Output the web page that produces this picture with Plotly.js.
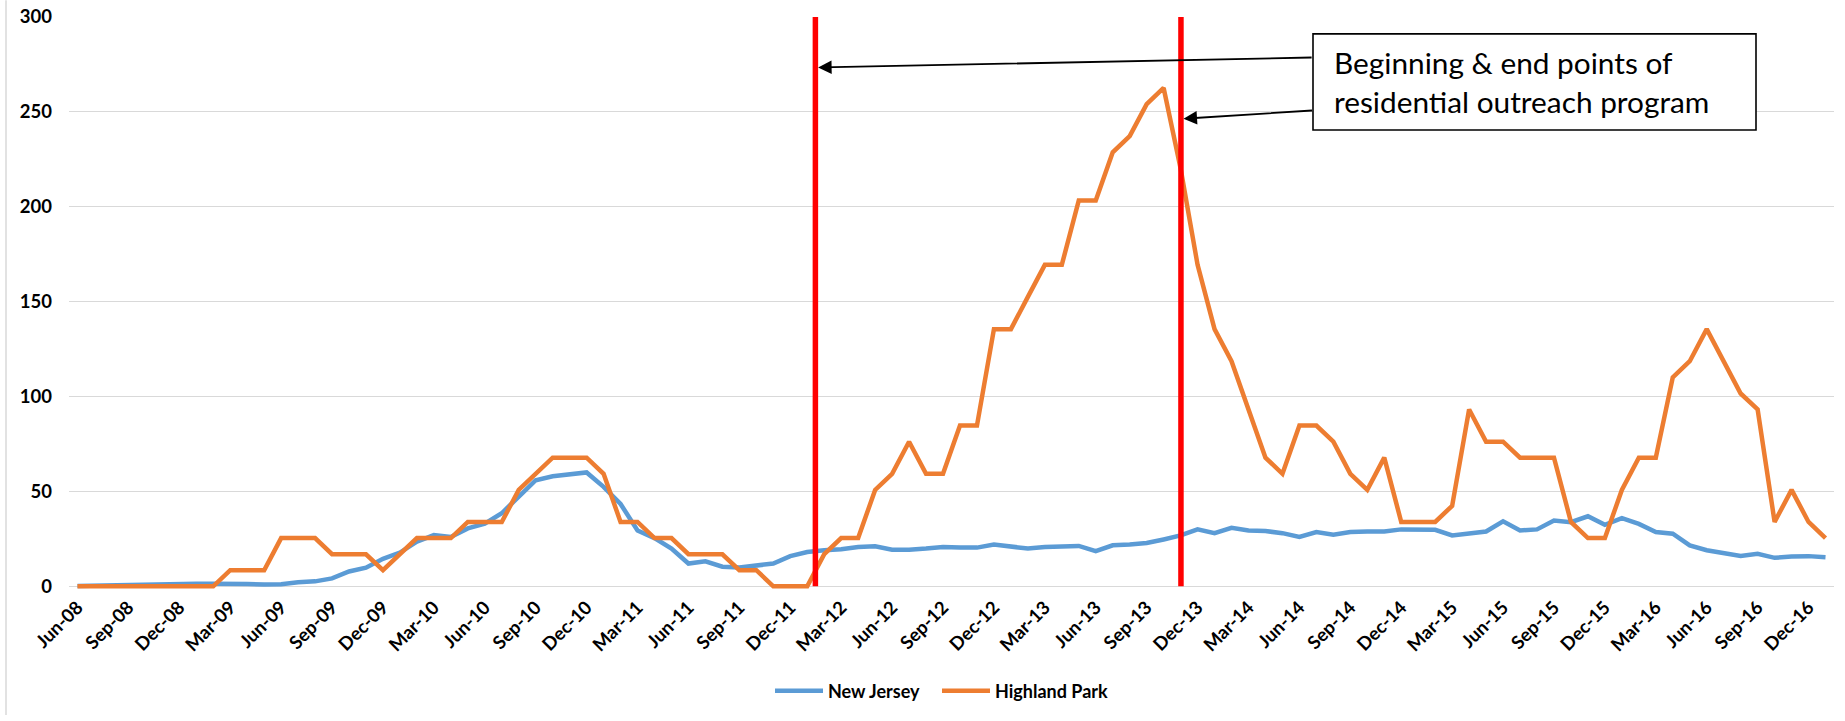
<!DOCTYPE html>
<html>
<head>
<meta charset="utf-8">
<script src="https://cdn.plot.ly/plotly-3.0.1.min.js"></script>
<style>
  html, body { margin: 0; padding: 0; background: #ffffff; }
  #chart { width: 1845px; height: 721px; }
</style>
</head>
<body>
<div id="chart"></div>
<script>
// Monthly reporting periods
const months = [
  'Jun-08','Jul-08','Aug-08','Sep-08','Oct-08','Nov-08','Dec-08',
  'Jan-09','Feb-09','Mar-09','Apr-09','May-09','Jun-09','Jul-09','Aug-09','Sep-09','Oct-09','Nov-09','Dec-09',
  'Jan-10','Feb-10','Mar-10','Apr-10','May-10','Jun-10','Jul-10','Aug-10','Sep-10','Oct-10','Nov-10','Dec-10',
  'Jan-11','Feb-11','Mar-11','Apr-11','May-11','Jun-11','Jul-11','Aug-11','Sep-11','Oct-11','Nov-11','Dec-11',
  'Jan-12','Feb-12','Mar-12','Apr-12','May-12','Jun-12','Jul-12','Aug-12','Sep-12','Oct-12','Nov-12','Dec-12',
  'Jan-13','Feb-13','Mar-13','Apr-13','May-13','Jun-13','Jul-13','Aug-13','Sep-13','Oct-13','Nov-13','Dec-13',
  'Jan-14','Feb-14','Mar-14','Apr-14','May-14','Jun-14','Jul-14','Aug-14','Sep-14','Oct-14','Nov-14','Dec-14',
  'Jan-15','Feb-15','Mar-15','Apr-15','May-15','Jun-15','Jul-15','Aug-15','Sep-15','Oct-15','Nov-15','Dec-15',
  'Jan-16','Feb-16','Mar-16','Apr-16','May-16','Jun-16','Jul-16','Aug-16','Sep-16','Oct-16','Nov-16','Dec-16',
  'Jan-17'
];

// Quarterly labels shown on the x axis
const tickLabels = [
  'Jun-08','Sep-08','Dec-08','Mar-09','Jun-09','Sep-09','Dec-09','Mar-10','Jun-10','Sep-10','Dec-10',
  'Mar-11','Jun-11','Sep-11','Dec-11','Mar-12','Jun-12','Sep-12','Dec-12','Mar-13','Jun-13','Sep-13',
  'Dec-13','Mar-14','Jun-14','Sep-14','Dec-14','Mar-15','Jun-15','Sep-15','Dec-15','Mar-16','Jun-16',
  'Sep-16','Dec-16'
];

const newJersey = [
  0.2, 0.4, 0.5, 0.6, 0.8, 1.2, 1.6,
  1.4, 1.3, 1.4, 1.2, 1.0, 1.1, 2.1, 2.6, 4.2, 7.8, 9.8, 14.5,
  17.8, 23.5, 27.0, 26.0, 30.5, 33.0, 38.5, 46.9, 55.9, 58.0, 59.0, 60.0,
  52.4, 43.4, 29.4, 25.4, 19.9, 12.0, 13.2, 10.3, 9.9, 10.8, 12.0, 15.9,
  18.1, 19.0, 19.5, 20.7, 21.1, 19.3, 19.3, 19.9, 20.7, 20.4, 20.4, 22.0,
  20.8, 19.9, 20.7, 21.1, 21.3, 18.5, 21.6, 22.0, 22.8, 24.7, 26.8, 30.0,
  28.0, 30.8, 29.4, 29.1, 28.0, 26.0, 28.6, 27.2, 28.6, 28.9, 28.9, 30.0,
  30.0, 29.8, 26.8, 28.0, 28.9, 34.3, 29.4, 30.0, 34.7, 33.8, 36.9, 32.4,
  35.9, 32.9, 28.6, 27.7, 21.6, 19.0, 17.8, 16.0, 17.1, 15.0, 15.7, 15.9,
  15.3
];

const highlandPark = [
  0, 0, 0, 0, 0, 0, 0,
  0, 0, 8.5, 8.5, 8.5, 25.4, 25.4, 25.4, 16.9, 16.9, 16.9, 8.5,
  16.9, 25.4, 25.4, 25.4, 33.9, 33.9, 33.9, 50.8, 59.3, 67.8, 67.8, 67.8,
  59.3, 33.9, 33.9, 25.4, 25.4, 16.9, 16.9, 16.9, 8.5, 8.5, 0, 0,
  0, 16.9, 25.4, 25.4, 50.8, 59.3, 76.2, 59.3, 59.3, 84.7, 84.7, 135.5,
  135.5, 152.5, 169.4, 169.4, 203.3, 203.3, 228.7, 237.2, 254.1, 262.6, 220.2, 169.4,
  135.5, 118.6, 93.2, 67.8, 59.3, 84.7, 84.7, 76.2, 59.3, 50.8, 67.8, 33.9,
  33.9, 33.9, 42.4, 93.2, 76.2, 76.2, 67.8, 67.8, 67.8, 33.9, 25.4, 25.4,
  50.8, 67.8, 67.8, 110.1, 118.6, 135.5, 118.6, 101.6, 93.2, 33.9, 50.8, 33.9,
  25.4
];

// Start and end of the residential outreach program, in month-index units
const programBounds = [43.48, 65.02];

const yTicks = [0, 50, 100, 150, 200, 250, 300];

const FONT = 'Lato, "Open Sans", sans-serif';

const traces = [
  {
    x: months, y: newJersey, name: 'New Jersey', type: 'scatter', mode: 'lines',
    line: { color: '#5B9BD5', width: 4.5, shape: 'linear' },
    legend: 'legend',
    hoverinfo: 'x+y+name'
  },
  {
    x: months, y: highlandPark, name: 'Highland Park', type: 'scatter', mode: 'lines',
    line: { color: '#ED7D31', width: 4.5, shape: 'linear' },
    legend: 'legend2',
    hoverinfo: 'x+y+name'
  }
];

// Plot-area geometry helpers (paper fractions)
const W = 1845, H = 721;
const M = { l: 69, r: 11, t: 17, b: 124 };
const plotW = W - M.l - M.r, plotH = H - M.t - M.b;
const px = v => (v - M.l) / plotW;
const py = v => (H - M.b - v) / plotH;

const shapes = programBounds.map(b => ({
  type: 'line', xref: 'x', yref: 'y',
  x0: b, x1: b, y0: 0, y1: 300,
  line: { color: '#FF0000', width: 5.5 },
  layer: 'above'
}));

// Callout box
shapes.push({
  type: 'rect', xref: 'paper', yref: 'paper',
  x0: px(1313), x1: px(1756), y0: py(131), y1: py(34),
  line: { color: '#000000', width: 1.6 },
  fillcolor: '#FFFFFF',
  layer: 'above'
});

// Chart frame edge on the left
shapes.push({
  type: 'line', xref: 'paper', yref: 'paper',
  x0: px(6), x1: px(6), y0: py(721), y1: py(0),
  line: { color: '#D9D9D9', width: 1.5 },
  layer: 'below'
});

const annotations = [
  {
    xref: 'x', yref: 'y', x: programBounds[0] + 0.16, y: 273.4,
    text: '', showarrow: true, arrowhead: 2, arrowsize: 1.5, arrowwidth: 1.8,
    arrowcolor: '#000000', ax: 495, ay: -10, standoff: 0
  },
  {
    xref: 'x', yref: 'y', x: programBounds[1] + 0.15, y: 246.4,
    text: '', showarrow: true, arrowhead: 2, arrowsize: 1.5, arrowwidth: 1.8,
    arrowcolor: '#000000', ax: 130, ay: -8.3, standoff: 0
  },
  {
    xref: 'paper', yref: 'paper', x: px(1332), y: py(83),
    xanchor: 'left', yanchor: 'middle', align: 'left',
    text: 'Beginning &amp; end points of<br>residential outreach program',
    showarrow: false,
    font: { family: FONT, size: 29.8, color: '#000000' }
  }
];

const legendStyle = {
  orientation: 'h',
  xanchor: 'left',
  y: py(697), yanchor: 'middle',
  font: { family: FONT, size: 18, color: '#000000', weight: 'bold' },
  itemwidth: 48,
  bgcolor: 'rgba(0,0,0,0)'
};

const layout = {
  width: W, height: H,
  margin: M,
  paper_bgcolor: '#FFFFFF',
  plot_bgcolor: '#FFFFFF',
  font: { family: FONT, color: '#000000' },
  showlegend: true,
  legend: Object.assign({}, legendStyle, { x: px(770) }),
  legend2: Object.assign({}, legendStyle, { x: px(937) }),
  xaxis: {
    type: 'category',
    range: [-0.5, months.length - 0.5],
    tickmode: 'array',
    tickvals: tickLabels,
    ticktext: tickLabels,
    tickangle: -45,
    tickfont: { family: FONT, size: 18.5, color: '#000000', weight: 'bold' },
    showgrid: false,
    zeroline: false,
    showline: false,
    ticks: ''
  },
  yaxis: {
    range: [-3, 300],
    tickmode: 'array',
    tickvals: yTicks,
    tickfont: { family: FONT, size: 18.5, color: '#000000', weight: 'bold' },
    showgrid: true,
    gridcolor: '#D9D9D9',
    gridwidth: 1.3,
    zeroline: false,
    showline: false,
    ticks: '',
    ticklabelstandoff: 16
  },
  shapes: shapes,
  annotations: annotations
};

Plotly.newPlot('chart', traces, layout, { displayModeBar: false, responsive: false });
</script>
</body>
</html>
